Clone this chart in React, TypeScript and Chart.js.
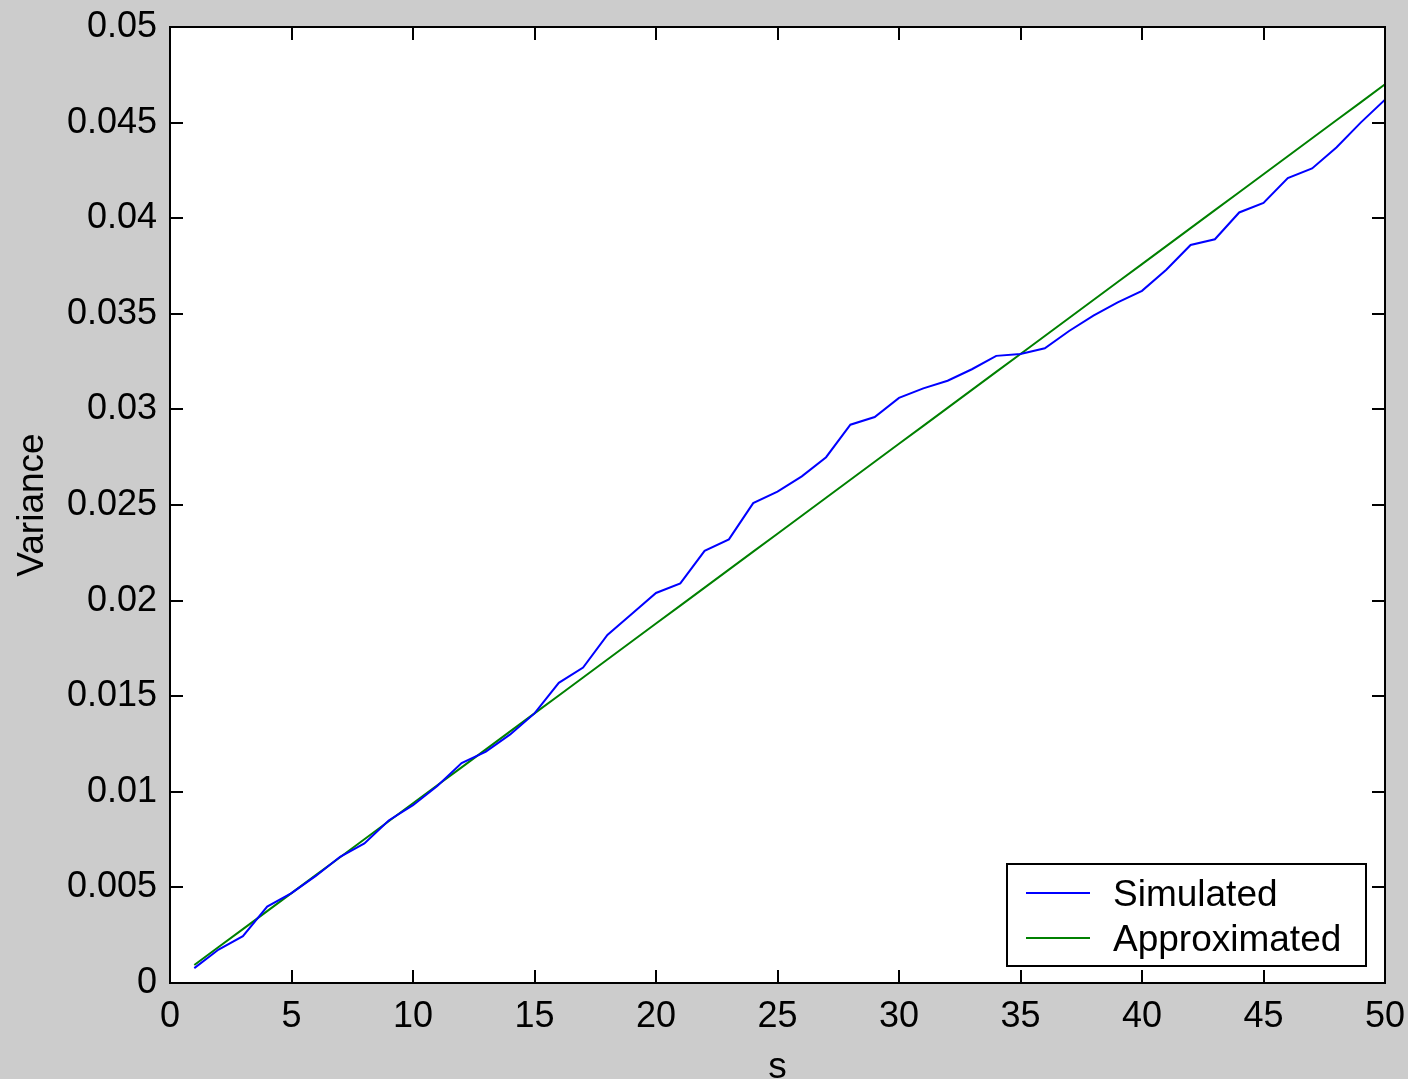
import { useEffect, useRef } from "react";
import { Chart, registerables } from "chart.js";

Chart.register(...registerables);

// ---------- data ----------
const sValues = [
  1, 2, 3, 4, 5, 6, 7, 8, 9, 10, 11, 12, 13, 14, 15, 16, 17, 18, 19, 20, 21, 22, 23, 24, 25,
  26, 27, 28, 29, 30, 31, 32, 33, 34, 35, 36, 37, 38, 39, 40, 41, 42, 43, 44, 45, 46, 47, 48, 49, 50,
];

const simulated = [
  0.00078, 0.00175, 0.00245, 0.0040, 0.0047, 0.0056, 0.0066, 0.0073, 0.0085, 0.0093,
  0.0103, 0.0115, 0.0121, 0.0130, 0.0141, 0.0157, 0.0165, 0.0182, 0.0193, 0.0204,
  0.0209, 0.0226, 0.0232, 0.0251, 0.0257, 0.0265, 0.0275, 0.0292, 0.0296, 0.0306,
  0.0311, 0.0315, 0.0321, 0.0328, 0.0329, 0.0332, 0.0341, 0.0349, 0.0356, 0.0362,
  0.0373, 0.0386, 0.0389, 0.0403, 0.0408, 0.0421, 0.0426, 0.0437, 0.0450, 0.0462,
];

const approximated = [
  0.00094, 0.00188, 0.00282, 0.00376, 0.0047, 0.00564, 0.00658, 0.00752, 0.00846, 0.0094,
  0.01034, 0.01128, 0.01222, 0.01316, 0.0141, 0.01504, 0.01598, 0.01692, 0.01786, 0.0188,
  0.01974, 0.02068, 0.02162, 0.02256, 0.0235, 0.02444, 0.02538, 0.02632, 0.02726, 0.0282,
  0.02914, 0.03008, 0.03102, 0.03196, 0.0329, 0.03384, 0.03478, 0.03572, 0.03666, 0.0376,
  0.03854, 0.03948, 0.04042, 0.04136, 0.0423, 0.04324, 0.04418, 0.04512, 0.04606, 0.047,
];

const seriesLabels = ["Simulated", "Approximated"];
const seriesColors = ["#0000ff", "#008000"];

const xTicks = [0, 5, 10, 15, 20, 25, 30, 35, 40, 45, 50];
const xTickLabels = ["0", "5", "10", "15", "20", "25", "30", "35", "40", "45", "50"];
const yTicks = [0, 0.005, 0.01, 0.015, 0.02, 0.025, 0.03, 0.035, 0.04, 0.045, 0.05];
const yTickLabels = ["0", "0.005", "0.01", "0.015", "0.02", "0.025", "0.03", "0.035", "0.04", "0.045", "0.05"];

const xTitle = "s";
const yTitle = "Variance";

const FONT = "'Liberation Sans', Arial, Helvetica, sans-serif";

// ---------- plugins ----------
const backgroundPlugin = {
  id: "matlabBackground",
  beforeDraw(chart: any) {
    const { ctx, chartArea, width, height } = chart;
    ctx.save();
    ctx.fillStyle = "#cccccc";
    ctx.fillRect(0, 0, width, height);
    ctx.fillStyle = "#ffffff";
    ctx.fillRect(chartArea.left, chartArea.top, chartArea.right - chartArea.left, chartArea.bottom - chartArea.top);
    ctx.restore();
  },
};

const framePlugin = {
  id: "matlabFrame",
  afterDatasetsDraw(chart: any) {
    const { ctx, chartArea } = chart;
    const xs = chart.scales.x;
    const ys = chart.scales.y;
    const tl = 13;
    ctx.save();
    ctx.strokeStyle = "#000000";
    ctx.lineWidth = 2;
    ctx.beginPath();
    xs.ticks.forEach((t: any) => {
      const px = Math.round(xs.getPixelForValue(t.value));
      if (px <= chartArea.left + 1 || px >= chartArea.right - 1) return;
      ctx.moveTo(px, chartArea.bottom);
      ctx.lineTo(px, chartArea.bottom - tl);
      ctx.moveTo(px, chartArea.top);
      ctx.lineTo(px, chartArea.top + tl);
    });
    ys.ticks.forEach((t: any) => {
      const py = Math.round(ys.getPixelForValue(t.value));
      if (py <= chartArea.top + 1 || py >= chartArea.bottom - 1) return;
      ctx.moveTo(chartArea.left, py);
      ctx.lineTo(chartArea.left + tl, py);
      ctx.moveTo(chartArea.right, py);
      ctx.lineTo(chartArea.right - tl, py);
    });
    ctx.stroke();
    ctx.strokeRect(chartArea.left, chartArea.top, chartArea.right - chartArea.left, chartArea.bottom - chartArea.top);

    // legend (inside, bottom-right, like MATLAB)
    const boxRight = chartArea.right - 19;
    const boxBottom = chartArea.bottom - 17;
    const boxLeft = chartArea.right - 378;
    const boxTop = chartArea.bottom - 119;
    ctx.fillStyle = "#ffffff";
    ctx.fillRect(boxLeft, boxTop, boxRight - boxLeft, boxBottom - boxTop);
    ctx.lineWidth = 2;
    ctx.strokeStyle = "#000000";
    ctx.strokeRect(boxLeft, boxTop, boxRight - boxLeft, boxBottom - boxTop);
    ctx.font = `37px ${FONT}`;
    ctx.textAlign = "left";
    ctx.textBaseline = "alphabetic";
    chart.data.datasets.forEach((ds: any, i: number) => {
      const ly = boxTop + 29 + i * 45;
      ctx.strokeStyle = ds.borderColor;
      ctx.lineWidth = 2;
      ctx.beginPath();
      ctx.moveTo(boxLeft + 19, ly);
      ctx.lineTo(boxLeft + 83, ly);
      ctx.stroke();
      ctx.fillStyle = "#000000";
      ctx.fillText(ds.label, boxLeft + 106, ly + 13);
    });
    ctx.restore();
  },
};

export default function App() {
  const canvasRef = useRef<HTMLCanvasElement | null>(null);

  useEffect(() => {
    document.body.style.margin = "0";
    document.body.style.background = "#cccccc";
    const canvas = canvasRef.current;
    if (!canvas) return;

    const datasets = [simulated, approximated].map((vals, i) => ({
      label: seriesLabels[i],
      data: sValues.map((s, j) => ({ x: s, y: vals[j] })),
      borderColor: seriesColors[i],
      backgroundColor: seriesColors[i],
      borderWidth: 2,
      pointRadius: 0,
      tension: 0,
      fill: false,
    }));

    const chart = new Chart(canvas, {
      type: "line",
      data: { datasets },
      options: {
        responsive: false,
        animation: false,
        events: [],
        layout: { padding: { top: 27, right: 23, left: 0, bottom: 0 } },
        plugins: {
          legend: { display: false },
          tooltip: { enabled: false },
          title: { display: false },
        },
        scales: {
          x: {
            type: "linear",
            min: 0,
            max: 50,
            afterBuildTicks: (scale: any) => {
              scale.ticks = xTicks.map((v) => ({ value: v }));
            },
            afterFit: (scale: any) => {
              scale.height = 96;
              scale.paddingLeft = 0;
              scale.paddingRight = 0;
              scale.paddingTop = 0;
              scale.paddingBottom = 0;
            },
            grid: { display: false, drawTicks: false },
            border: { display: false },
            ticks: {
              autoSkip: false,
              maxRotation: 0,
              minRotation: 0,
              padding: 12,
              color: "#000000",
              font: { family: FONT, size: 36 },
              callback: (_v: any, i: number) => xTickLabels[i],
            },
            title: {
              display: true,
              text: xTitle,
              color: "#000000",
              font: { family: FONT, size: 37, lineHeight: 0.6 },
              padding: { top: 0, bottom: 0 },
            },
          },
          y: {
            type: "linear",
            min: 0,
            max: 0.05,
            afterBuildTicks: (scale: any) => {
              scale.ticks = yTicks.map((v) => ({ value: v }));
            },
            afterFit: (scale: any) => {
              scale.width = 170;
              scale.paddingLeft = 0;
              scale.paddingRight = 0;
              scale.paddingTop = 0;
              scale.paddingBottom = 0;
            },
            grid: { display: false, drawTicks: false },
            border: { display: false },
            ticks: {
              autoSkip: false,
              padding: 13,
              color: "#000000",
              font: { family: FONT, size: 36 },
              callback: (_v: any, i: number) => yTickLabels[i],
            },
            title: {
              display: true,
              text: yTitle,
              color: "#000000",
              font: { family: FONT, size: 37 },
              padding: { top: 11, bottom: 0 },
            },
          },
        },
      },
      plugins: [backgroundPlugin, framePlugin],
    } as any);

    return () => {
      chart.destroy();
    };
  }, []);

  return (
    <div style={{ width: 1408, height: 1079, overflow: "hidden", background: "#cccccc" }}>
      <canvas ref={canvasRef} width={1408} height={1079} style={{ display: "block" }} />
    </div>
  );
}
